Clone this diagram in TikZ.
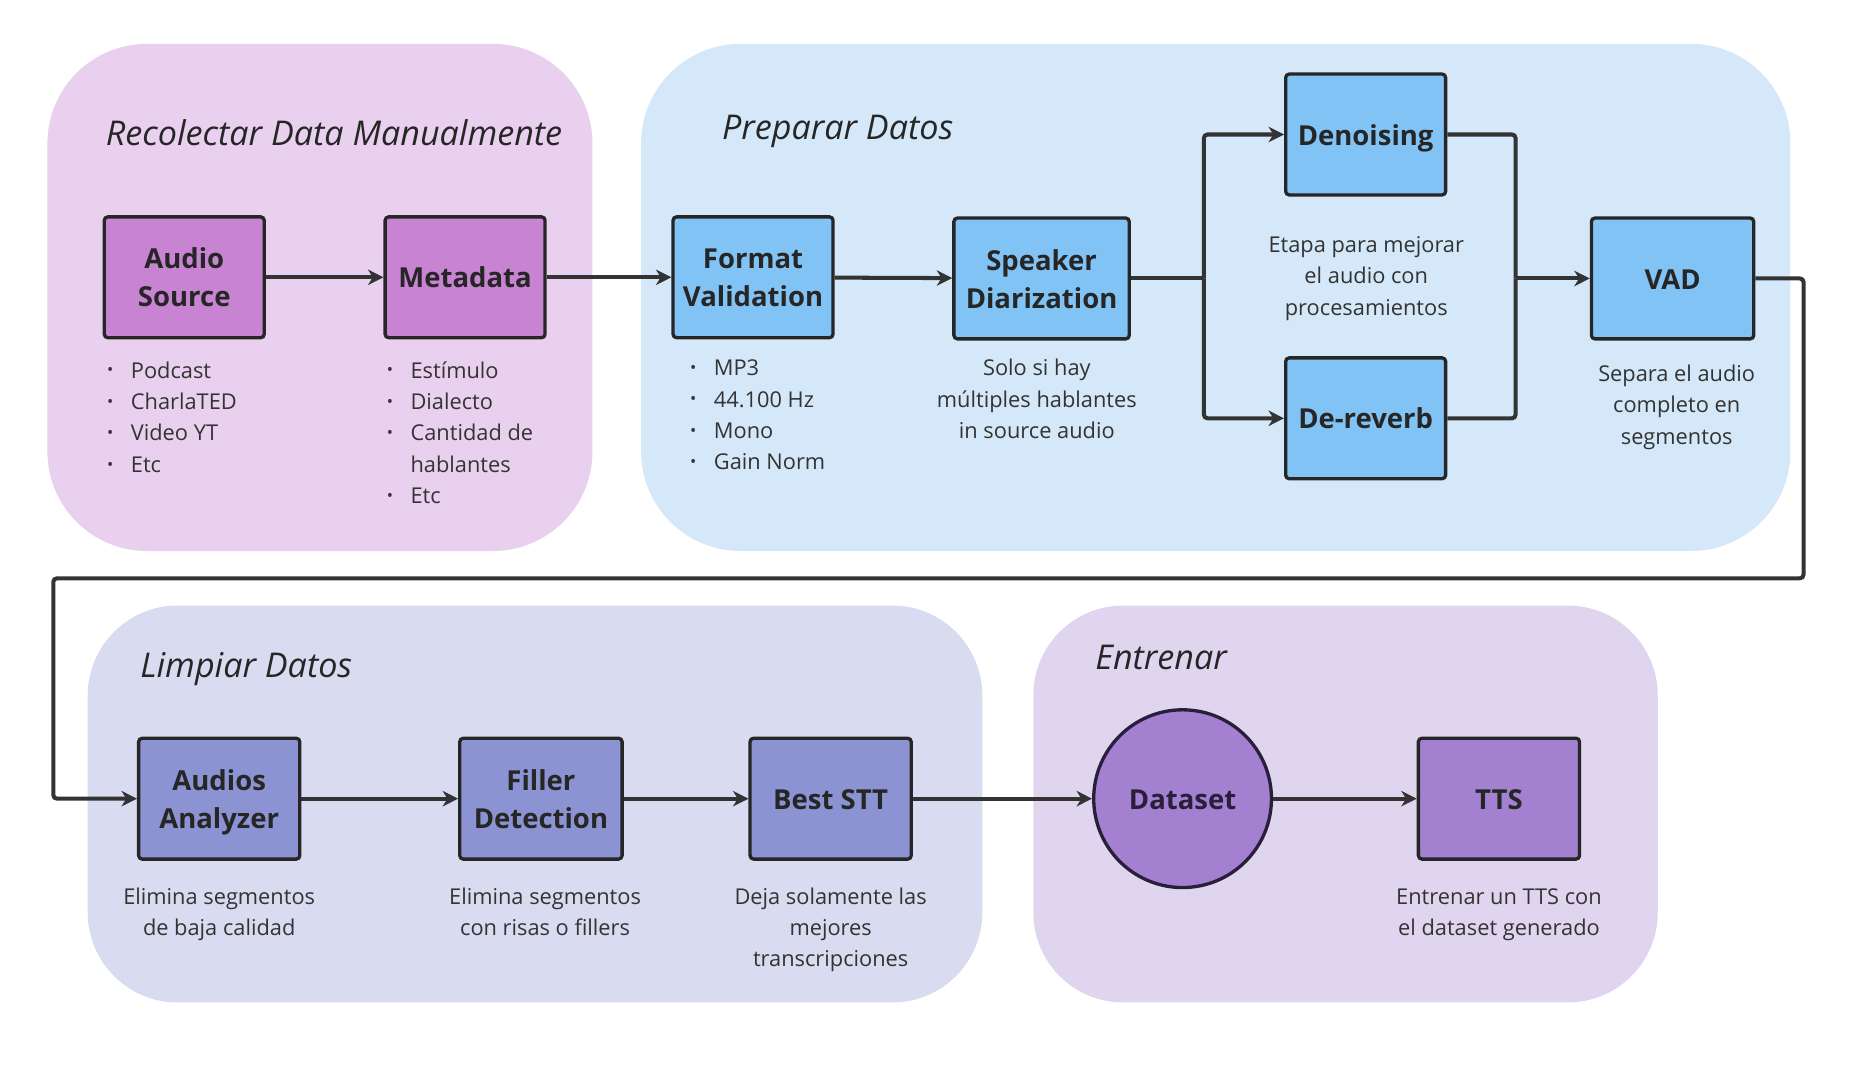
\documentclass[tikz,border=0pt]{standalone}
\usepackage{fontspec}
\setmainfont{Open Sans}
\usetikzlibrary{arrows.meta}
\definecolor{pinkbg}{HTML}{E9D0EE}
\definecolor{pinkbox}{HTML}{C883D3}
\definecolor{bluebg}{HTML}{D5E8F9}
\definecolor{bluebox}{HTML}{82C3F5}
\definecolor{lavbg}{HTML}{D9DBF0}
\definecolor{lavbox}{HTML}{8C93D3}
\definecolor{purbg}{HTML}{DFD5EF}
\definecolor{purbox}{HTML}{A381D0}
\definecolor{ink}{HTML}{333333}
\definecolor{edgecol}{HTML}{262626}
\definecolor{circedge}{HTML}{2A1F3A}
\newcommand{\bodyfont}{\fontsize{9.2}{13.25}\selectfont}
\newcommand{\boxfont}{\fontsize{11.6}{16}\selectfont\bfseries}
\newcommand{\titfont}{\fontsize{14.4}{17}\selectfont\itshape}
\newcommand{\bt}{\raisebox{0.9pt}{\fontsize{7}{7}\selectfont •}}
\newcommand{\bx}[1]{\raisebox{-1.3pt}[\height][\depth]{\begin{tabular}{@{}c@{}}#1\end{tabular}}}
\tikzset{
  panel/.style={fill=#1, draw=none, inner sep=0pt},
  stepbox/.style={draw=edgecol, line width=1.4pt, rounded corners=1.5pt, fill=#1,
    minimum width=67.5pt, minimum height=51pt, align=center, font=\boxfont, text=edgecol, inner sep=2pt},
  lst/.style={anchor=base west, inner sep=0pt, font=\bodyfont, text=ink},
  desc/.style={anchor=base, inner sep=0pt, font=\bodyfont, text=ink},
  ttl/.style={anchor=base west, inner sep=0pt, font=\titfont, text=edgecol},
  conn/.style={draw=ink, line width=1.7pt, rounded corners=1.5pt},
  >={Stealth[length=6.5pt,width=6.5pt,inset=2pt]}
}
\begin{document}
\begin{tikzpicture}[x=0.5pt,y=-0.5pt]
\useasboundingbox (0,0) rectangle (1568,901);
% panels
\node[panel=pinkbg, rounded corners=42pt, minimum width=230pt, minimum height=214pt] (p1) at (270,251) {};
\node[panel=bluebg, rounded corners=42pt, minimum width=485pt, minimum height=214pt] (p2) at (1026,251) {};
\node[panel=lavbg, rounded corners=38pt, minimum width=377.5pt, minimum height=167.5pt] (p3) at (451.5,678.5) {};
\node[panel=purbg, rounded corners=38pt, minimum width=263.5pt, minimum height=167.5pt] (p4) at (1135.5,678.5) {};
% titles
\node[ttl] (t1) at (89,123) {Recolectar Data Manualmente};
\node[ttl] (t2) at (609,118) {Preparar Datos};
\node[ttl] (t3) at (118,572) {Limpiar Datos};
\node[ttl] (t4) at (924,565) {Entrenar};
% boxes
\node[stepbox=pinkbox] (as) at (155.5,234) {\bx{Audio\\Source}};
\node[stepbox=pinkbox] (md) at (392.5,234) {\bx{Metadata}};
\node[stepbox=bluebox] (fv) at (635.5,234) {\bx{Format\\Validation}};
\node[stepbox=bluebox, minimum width=74pt] (sd) at (879,235) {\bx{Speaker\\Diarization}};
\node[stepbox=bluebox] (dn) at (1152.5,113.5) {\bx{Denoising}};
\node[stepbox=bluebox] (dr) at (1152.5,353) {\bx{De-reverb}};
\node[stepbox=bluebox, minimum width=68.5pt] (vad) at (1411.5,235) {\bx{VAD}};
\node[stepbox=lavbox, minimum width=68pt] (aa) at (185,674) {\bx{Audios\\Analyzer}};
\node[stepbox=lavbox, minimum width=68.5pt] (fd) at (456.5,674) {\bx{Filler\\Detection}};
\node[stepbox=lavbox, minimum width=68pt] (bs) at (701,674) {\bx{Best STT}};
\node[draw=circedge, line width=1.4pt, fill=purbox, circle, minimum size=75pt, font=\boxfont, text=circedge, inner sep=0pt] (ds) at (998,674) {\bx{Dataset}};
\node[stepbox=purbox, minimum width=68pt] (tts) at (1265,674) {\bx{TTS}};
% descriptions
\node[lst] (asl) at (90,319) {\begin{tabular}[t]{@{}l@{\hspace{7.4pt}}l@{}}\bt & Podcast\\ \bt & CharlaTED\\ \bt & Video YT\\ \bt & Etc\end{tabular}};
\node[lst] (mdl) at (326,319) {\begin{tabular}[t]{@{}l@{\hspace{7.4pt}}l@{}}\bt & Estímulo\\ \bt & Dialecto\\ \bt & Cantidad de\\ & hablantes\\ \bt & Etc\end{tabular}};
\node[lst] (fvl) at (582,317) {\begin{tabular}[t]{@{}l@{\hspace{7.4pt}}l@{}}\bt & MP3\\ \bt & 44.100 Hz\\ \bt & Mono\\ \bt & Gain Norm\end{tabular}};
\node[desc] (sdt) at (875,317) {\begin{tabular}[t]{@{}c@{}}Solo si hay\\ múltiples hablantes\\ in source audio\end{tabular}};
\node[desc] (ept) at (1153,213) {\begin{tabular}[t]{@{}c@{}}Etapa para mejorar\\ el audio con\\ procesamientos\end{tabular}};
\node[desc] (vat) at (1415,322) {\begin{tabular}[t]{@{}c@{}}Separa el audio\\ completo en\\ segmentos\end{tabular}};
\node[desc] (aat) at (185,763) {\begin{tabular}[t]{@{}c@{}}Elimina segmentos\\ de baja calidad\end{tabular}};
\node[desc] (fdt) at (460,763) {\begin{tabular}[t]{@{}c@{}}Elimina segmentos\\ con risas o fillers\end{tabular}};
\node[desc] (bst) at (701,763) {\begin{tabular}[t]{@{}c@{}}Deja solamente las\\ mejores\\ transcripciones\end{tabular}};
\node[desc] (ttt) at (1265,763) {\begin{tabular}[t]{@{}c@{}}Entrenar un TTS con\\ el dataset generado\end{tabular}};
% connectors
\coordinate (split) at (1016,235);
\coordinate (merge) at (1279,235);
\coordinate (r1) at (1522,235);
\coordinate (r2) at (1522,488);
\coordinate (r3) at (45,488);
\coordinate (r4) at (45,674);
\draw[conn,->] (as) -- (md);
\draw[conn,->] (md) -- (fv);
\draw[conn,->] (fv) -- (sd);
\draw[conn] (sd.east) -- (split);
\draw[conn,->] (split) |- (dn.west);
\draw[conn,->] (split) |- (dr.west);
\draw[conn] (dn.east) -| (merge);
\draw[conn] (dr.east) -| (merge);
\draw[conn,->] (merge) -- (vad.west);
\draw[conn,->] (vad.east) -- (r1) -- (r2) -- (r3) -- (r4) -- (aa.west);
\draw[conn,->] (aa) -- (fd);
\draw[conn,->] (fd) -- (bs);
\draw[conn,->] (bs) -- (ds);
\draw[conn,->] (ds) -- (tts);
\end{tikzpicture}
\end{document}
